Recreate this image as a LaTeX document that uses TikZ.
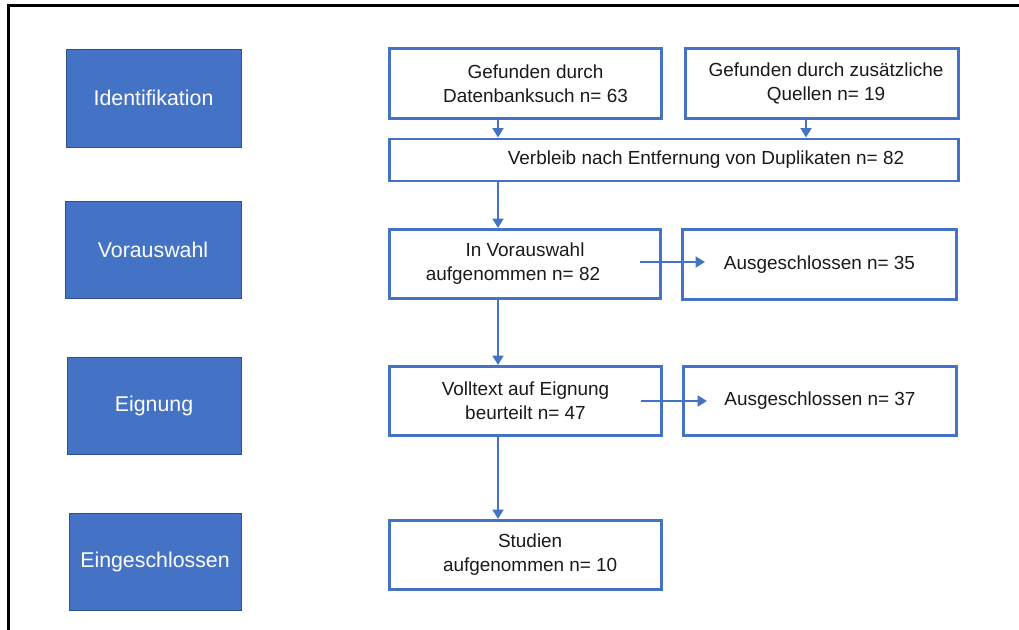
\documentclass[tikz,border=0pt]{standalone}
\usepackage{fontspec}
\setmainfont{Liberation Sans}
\usetikzlibrary{arrows.meta,calc}
\definecolor{pblue}{HTML}{4472C4}
\definecolor{pdark}{HTML}{2F528F}
\definecolor{ptext}{HTML}{1A1A1A}
\begin{document}
\begin{tikzpicture}[x=0.75pt,y=-0.75pt,
  phase/.style={draw=pdark,line width=0.6pt,fill=pblue,text=white,
    font=\fontsize{16pt}{19pt}\selectfont,inner sep=0pt},
  flowbox/.style={draw=pblue,line width=2.2pt,fill=white,text=ptext,align=center,
    font=\fontsize{14.2pt}{18pt}\selectfont,inner sep=0pt},
  arr/.style={draw=pblue,line width=2.2pt,-{Triangle[width=8pt,length=7pt]}}]
\useasboundingbox (0,0) rectangle (1019,630);
% outer frame
\draw[line width=1.6pt,black] (8.5,640) -- (8.5,5.5) -- (1030,5.5);
% phase boxes
\node[phase,minimum width=175*0.75pt,minimum height=98*0.75pt] (pid) at (153.5,98) {Identifikation};
\node[phase,minimum width=176*0.75pt,minimum height=97*0.75pt] (pvor) at (153,249.5) {Vorauswahl};
\node[phase,minimum width=174*0.75pt,minimum height=97*0.75pt] (peig) at (154,405.5) {Eignung};
\node[phase,minimum width=172*0.75pt,minimum height=97*0.75pt] (pein) at (155,561.5) {Eingeschlossen};
% flow boxes
\node[flowbox,minimum width=272*0.75pt,minimum height=70*0.75pt] (g1) at (525.5,83.5) {\hspace*{15pt}Gefunden durch\\\hspace*{15pt}Datenbanksuch n= 63};
\node[flowbox,minimum width=273*0.75pt,minimum height=70*0.75pt] (g2) at (822,83.5) {\hspace*{6pt}Gefunden durch zusätzliche\\\hspace*{6pt}Quellen n= 19};
\node[flowbox,minimum width=569*0.75pt,minimum height=42*0.75pt] (verb) at (674,160) {\hspace*{48pt}Verbleib nach Entfernung von Duplikaten n= 82};
\node[flowbox,minimum width=271*0.75pt,minimum height=69*0.75pt] (vor) at (525,264) {In Vorauswahl\\aufgenommen n= 82\hspace*{18pt}};
\node[flowbox,minimum width=274*0.75pt,minimum height=70*0.75pt] (a35) at (819.5,264.5) {Ausgeschlossen n= 35};
\node[flowbox,minimum width=272*0.75pt,minimum height=69*0.75pt] (voll) at (525.5,401) {Volltext auf Eignung\\beurteilt n= 47};
\node[flowbox,minimum width=273*0.75pt,minimum height=69*0.75pt] (a37) at (820,401) {Ausgeschlossen n= 37};
\node[flowbox,minimum width=272*0.75pt,minimum height=69*0.75pt] (stud) at (525.5,555) {\hspace*{7pt}Studien\\\hspace*{7pt}aufgenommen n= 10};
% connectors
\coordinate (cm) at (498,0);
\coordinate (cr) at (806,0);
\draw[arr] (g1.south -| cm) -- (verb.north -| cm);
\draw[arr] (g2.south -| cr) -- (verb.north -| cr);
\draw[arr] (verb.south -| cm) -- (vor.north -| cm);
\draw[arr] (vor.south -| cm) -- (voll.north -| cm);
\draw[arr] (voll.south -| cm) -- (stud.north -| cm);
\draw[arr] ($(vor.east)+(-22,-2)$) -- ($(a35.west)+(24,-2.5)$);
\draw[arr] ($(voll.east)+(-22,0)$) -- ($(a37.west)+(25,0)$);
\end{tikzpicture}
\end{document}
